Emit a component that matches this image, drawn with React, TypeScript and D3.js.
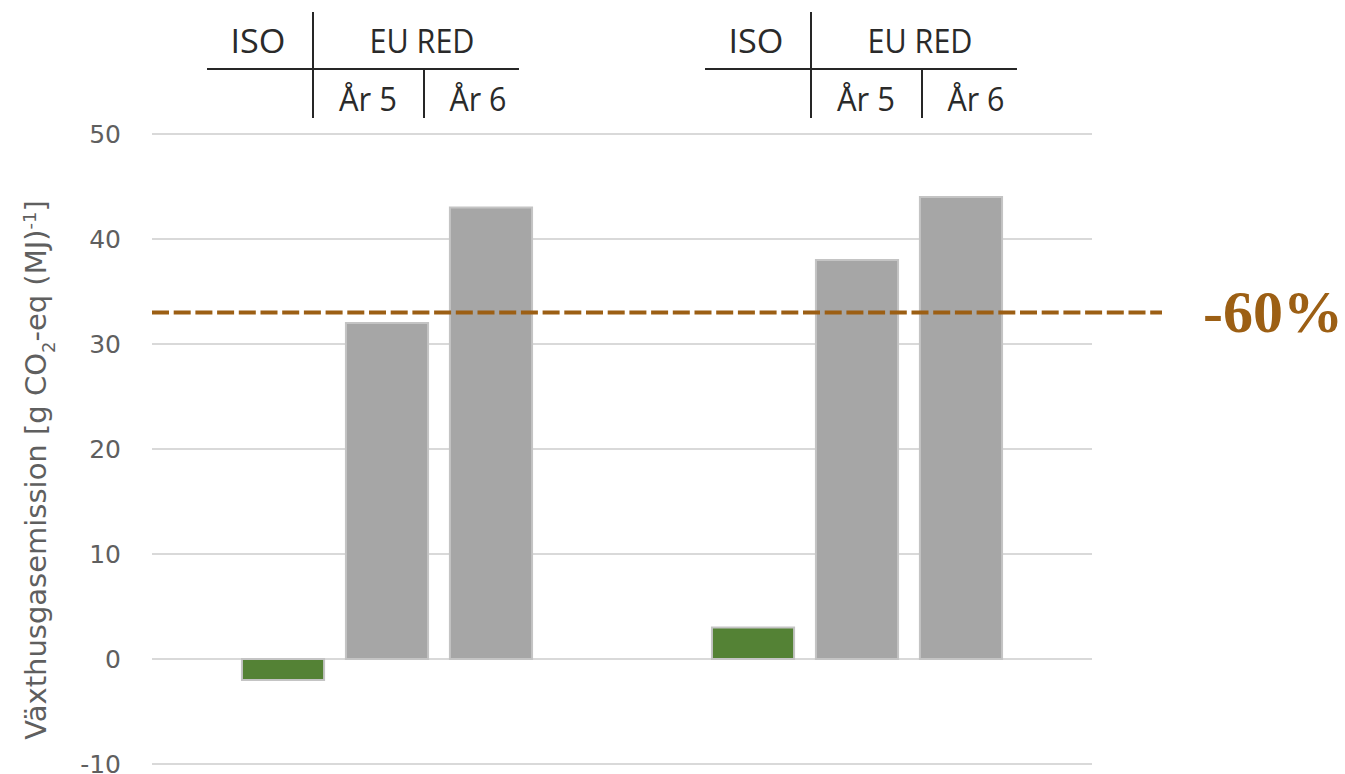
import React from "react";
import * as d3 from "d3";

const groups = ["G1", "G2"];
const series = ["ISO", "År 5", "År 6"];
const values: number[][] = [
  [-2, 32, 43],
  [3, 38, 44],
];
const seriesColors = ["#548235", "#a6a6a6", "#a6a6a6"];
const yTicks = [-10, 0, 10, 20, 30, 40, 50];
const thresholdValue = 33;
const thresholdLabel = "-60%";
const yLabelMain = "Växthusgasemission [g CO";
const headerTop = ["ISO", "EU RED"];
const headerSub = ["År 5", "År 6"];
const tableShift = [0, 28];

export default function App() {
  const W = 1345, H = 774;
  const left = 152, right = 1092;
  const y = d3.scaleLinear().domain([-10, 50]).range([764, 134]);
  const x0 = d3.scaleBand().domain(groups).range([left, right]).paddingInner(0).paddingOuter(0);
  const x1 = d3.scaleBand().domain(series).range([0, x0.bandwidth()]).paddingInner(0.21).paddingOuter(0.865);
  const font = "'DejaVu Sans', 'Open Sans', sans-serif";
  const hfont = "'Open Sans', 'DejaVu Sans', sans-serif";
  return (
    <svg width={W} height={H} style={{ position: "absolute", left: 0, top: 0 }}>
      <rect width={W} height={H} fill="#fff" />
      {yTicks.map((t) => (
        <g key={t}>
          <line x1={left} x2={right} y1={y(t)} y2={y(t)} stroke="#d9d9d9" strokeWidth={2} />
          <text x={121} y={y(t)} dy="0.36em" textAnchor="end" fontFamily={font} fontSize={25} fill="#5f5f5f">
            {t}
          </text>
        </g>
      ))}
      <text
        transform={`translate(36, 470) rotate(-90)`}
        textAnchor="middle"
        fontFamily={font}
        fontSize={29}
        fill="#5f5f5f"
        dy="0.35em"
      >
        {yLabelMain}
        <tspan fontSize={18} dy="9">2</tspan>
        <tspan dy="-9">-eq (MJ)</tspan>
        <tspan fontSize={18} dy="-10">-1</tspan>
        <tspan dy="10">]</tspan>
      </text>
      {groups.map((g, gi) => (
        <g key={g} transform={`translate(${x0(g)},0)`}>
          {series.map((s, si) => {
            const v = values[gi][si];
            const yTop = y(Math.max(0, v));
            const h = Math.abs(y(v) - y(0));
            return (
              <rect
                key={s}
                x={x1(s)}
                y={yTop}
                width={x1.bandwidth()}
                height={h}
                fill={seriesColors[si]}
                stroke="#c4c4c4"
                strokeWidth={2}
              />
            );
          })}
        </g>
      ))}
      <line
        x1={left}
        x2={1162}
        y1={y(thresholdValue)}
        y2={y(thresholdValue)}
        stroke="#9c5f14"
        strokeWidth={4}
        strokeDasharray="17 4.7"
      />
      <text x={1203} y={y(thresholdValue)} dy="0.33em" fontFamily="'Liberation Serif', 'DejaVu Serif', serif" fontWeight="bold" fontSize={60} fill="#9c5f14">
        {thresholdLabel}
      </text>
      {groups.map((g, gi) => {
        const bx = x0(g)! + tableShift[gi];
        const c = (s: string) => bx + x1(s)! + x1.bandwidth() / 2;
        const vx = c("ISO") + 30;
        const vx2 = c("År 5") + 37;
        const ts = { fontFamily: hfont, fontSize: 32, lengthAdjust: "spacingAndGlyphs" as const, textAnchor: "middle" as const };
        return (
          <g key={"hdr" + g} fill="#2a2a2a">
            <line x1={vx} x2={vx} y1={12} y2={118} stroke="#262626" strokeWidth={2} />
            <line x1={c("ISO") - 76} x2={c("År 6") + 28} y1={69} y2={69} stroke="#262626" strokeWidth={2} />
            <line x1={vx2} x2={vx2} y1={69} y2={118} stroke="#262626" strokeWidth={2} />
            <text x={c("ISO") - 25} y={53} textLength={55} {...ts}>
              {headerTop[0]}
            </text>
            <text x={(c("År 5") + c("År 6")) / 2 - 17} y={53} textLength={105} {...ts}>
              {headerTop[1]}
            </text>
            <text x={c("År 5") - 19} y={111} textLength={58} {...ts}>
              {headerSub[0]}
            </text>
            <text x={c("År 6") - 13} y={111} textLength={57} {...ts}>
              {headerSub[1]}
            </text>
          </g>
        );
      })}
    </svg>
  );
}
